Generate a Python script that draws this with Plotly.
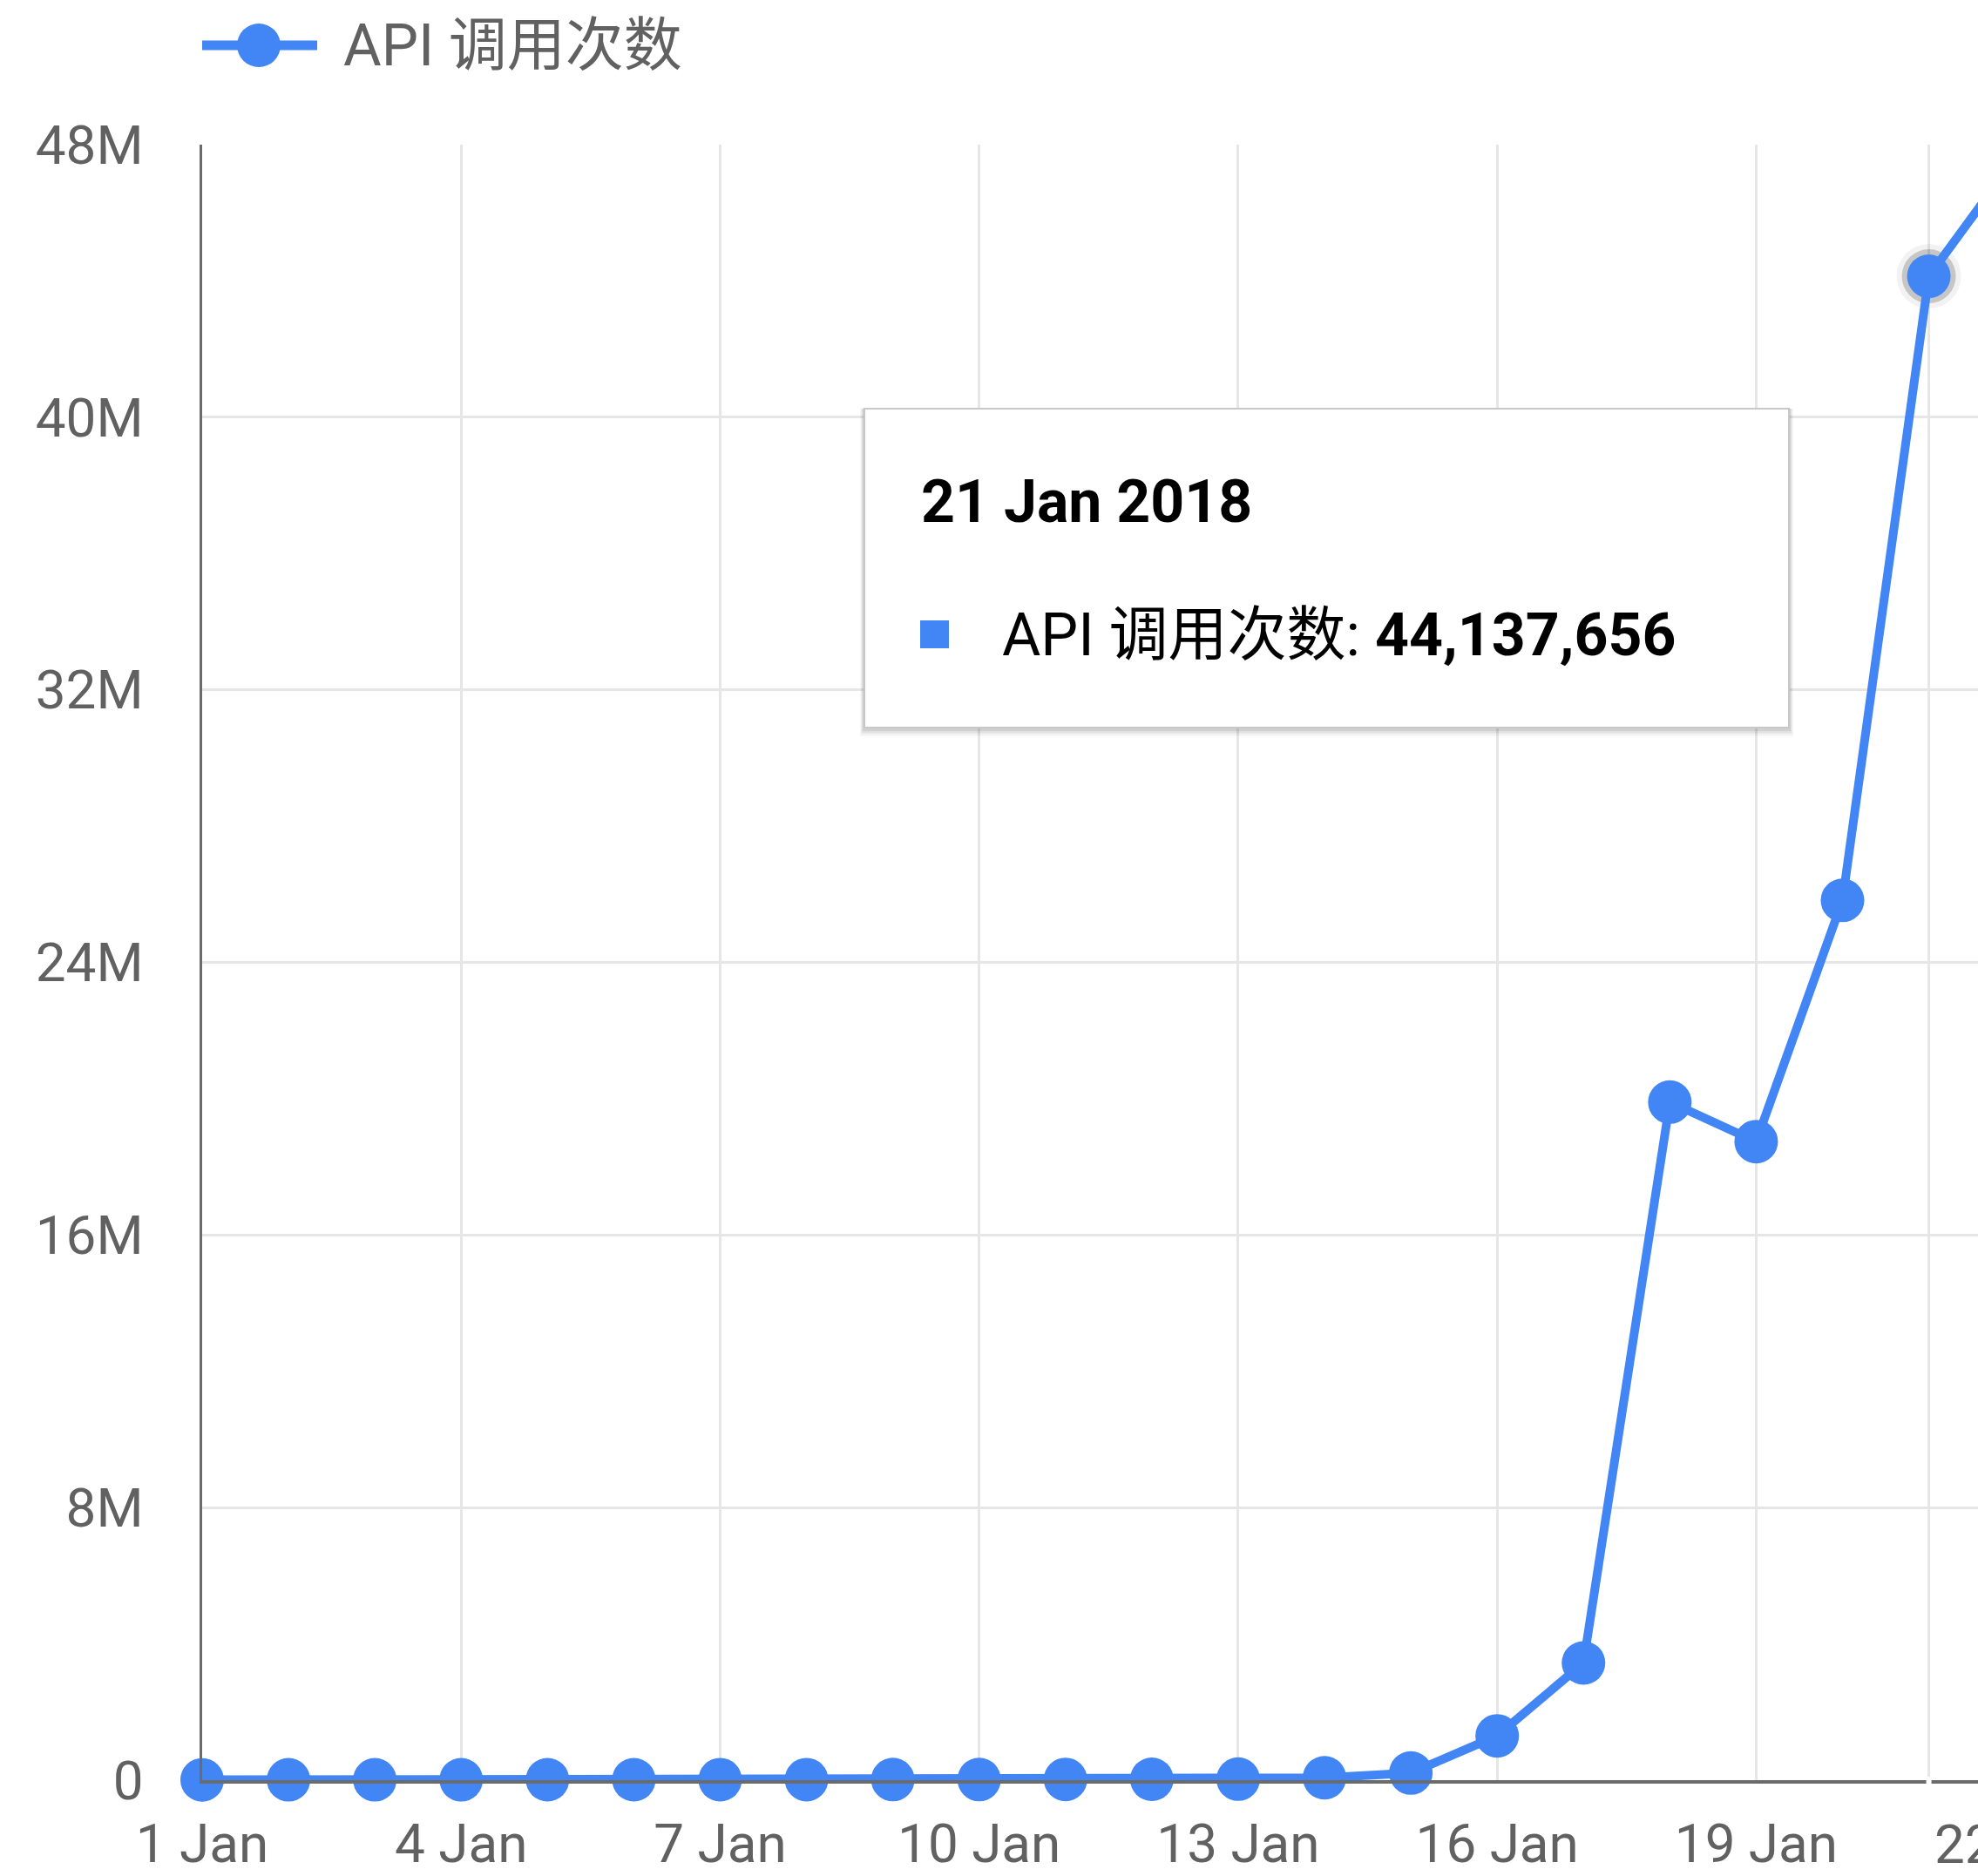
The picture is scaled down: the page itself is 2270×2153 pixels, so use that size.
import plotly.graph_objects as go

# ---------------- data ----------------
dates = ["2018-01-01", "2018-01-02", "2018-01-03", "2018-01-04", "2018-01-05",
         "2018-01-06", "2018-01-07", "2018-01-08", "2018-01-09", "2018-01-10",
         "2018-01-11", "2018-01-12", "2018-01-13", "2018-01-14", "2018-01-15",
         "2018-01-16", "2018-01-17", "2018-01-18", "2018-01-19", "2018-01-20",
         "2018-01-21", "2018-01-22"]
api_calls = [9000, 10500, 11000, 12000, 12500, 13000, 14000, 15000, 16500, 18000,
             21000, 25000, 30000, 70000, 210000, 1300000, 3440000, 19900000,
             18740000, 25820000, 44137656, 47600000]
series_name = "API 调用次数"
x_tick_vals = ["2018-01-01", "2018-01-04", "2018-01-07", "2018-01-10",
               "2018-01-13", "2018-01-16", "2018-01-19"]
x_tick_text = ["1 Jan", "4 Jan", "7 Jan", "10 Jan", "13 Jan", "16 Jan", "19 Jan"]
extra_tick_text = "22 Jan"
y_tick_vals = [0, 8e6, 16e6, 24e6, 32e6, 40e6, 48e6]
y_tick_text = ["0", "8M", "16M", "24M", "32M", "40M", "48M"]
hover_idx = 20
hover_label = "21 Jan 2018"

# ---------------- layout helpers ----------------
W, H = 2270, 2153
L, R, T, B = 232, 0, 166, 110
BLUE = "#4285F4"
GRAY_TXT = "#616161"
FONT = "Roboto, 'Noto Sans CJK SC', sans-serif"


def pxx(x):
    return (x - L) / (W - L - R)


def pyy(y):
    return (H - B - y) / (H - T - B)


fig = go.Figure()

# hover halo behind the highlighted point
fig.add_trace(go.Scatter(
    x=[dates[hover_idx]], y=[api_calls[hover_idx]], mode="markers",
    marker=dict(size=74, color="rgba(0,0,0,0.05)"),
    hoverinfo="skip", showlegend=False, cliponaxis=False))
fig.add_trace(go.Scatter(
    x=[dates[hover_idx]], y=[api_calls[hover_idx]], mode="markers",
    marker=dict(size=62, color="rgba(0,0,0,0.18)"),
    hoverinfo="skip", showlegend=False, cliponaxis=False))

fig.add_trace(go.Scatter(
    x=dates, y=api_calls, mode="lines+markers", name=series_name,
    line=dict(color=BLUE, width=10),
    marker=dict(size=50, color=BLUE),
    cliponaxis=False, showlegend=False))

shapes = []
annotations = []

# hover crosshair line
shapes.append(dict(type="line", xref="x", yref="y",
                   x0=dates[hover_idx], x1=dates[hover_idx], y0=0, y1=48e6,
                   line=dict(color="#e6e6e6", width=3), layer="between"))
# gap in axis line at hover position
shapes.append(dict(type="line", xref="x", yref="paper",
                   x0=dates[hover_idx], x1=dates[hover_idx],
                   y0=pyy(2050), y1=pyy(2039),
                   line=dict(color="white", width=6), layer="above"))

# legend (drawn manually to match large symbol)
shapes.append(dict(type="line", xref="paper", yref="paper",
                   x0=pxx(232), x1=pxx(364), y0=pyy(52), y1=pyy(52),
                   line=dict(color=BLUE, width=11), layer="above"))
shapes.append(dict(type="circle", xref="paper", yref="paper",
                   x0=pxx(272), x1=pxx(322), y0=pyy(77), y1=pyy(27),
                   fillcolor=BLUE, line=dict(width=0), layer="above"))
annotations.append(dict(xref="paper", yref="paper", x=pxx(392), y=pyy(52),
                        xanchor="left", yanchor="middle", showarrow=False,
                        text=series_name,
                        font=dict(family=FONT, size=67, color=GRAY_TXT)))

# tooltip box with shadow
bx0, by0, bx1, by1 = 992, 469, 2053, 835
for i, a in enumerate([0.03, 0.04, 0.05, 0.07]):
    off = 10 - 2 * i
    shapes.append(dict(type="rect", xref="paper", yref="paper",
                       x0=pxx(bx0 - off / 2), x1=pxx(bx1 + off / 2),
                       y0=pyy(by1 + off), y1=pyy(by0),
                       fillcolor=f"rgba(0,0,0,{a})", line=dict(width=0),
                       layer="above"))
shapes.append(dict(type="rect", xref="paper", yref="paper",
                   x0=pxx(bx0), x1=pxx(bx1), y0=pyy(by1), y1=pyy(by0),
                   fillcolor="white", line=dict(color="#c8c8c8", width=2),
                   layer="above"))
shapes.append(dict(type="rect", xref="paper", yref="paper",
                   x0=pxx(1056), x1=pxx(1089), y0=pyy(744), y1=pyy(712),
                   fillcolor=BLUE, line=dict(width=0), layer="above"))
annotations.append(dict(xref="paper", yref="paper", x=pxx(1055), y=pyy(576),
                        xanchor="left", yanchor="middle", showarrow=False,
                        text=f"<b>{hover_label}</b>",
                        font=dict(family=FONT, size=68, color="#000000")))
annotations.append(dict(xref="paper", yref="paper", x=pxx(1148), y=pyy(729),
                        xanchor="left", yanchor="middle", showarrow=False,
                        text=f"{series_name}: <b>{api_calls[hover_idx]:,}</b>",
                        font=dict(family=FONT, size=68, color="#000000")))

# partially visible next tick label beyond the right edge
annotations.append(dict(xref="paper", yref="paper", x=pxx(2313), y=pyy(2078),
                        xanchor="center", yanchor="top", showarrow=False,
                        text=extra_tick_text,
                        font=dict(family=FONT, size=62, color=GRAY_TXT)))

fig.update_layout(
    width=W, height=H,
    margin=dict(l=L, r=R, t=T, b=B, pad=0, autoexpand=False),
    paper_bgcolor="white", plot_bgcolor="white",
    font=dict(family=FONT, size=62, color=GRAY_TXT),
    showlegend=False,
    shapes=shapes, annotations=annotations,
    xaxis=dict(
        type="date",
        range=["2018-01-01", "2018-01-21 13:40"],
        tickmode="array", tickvals=x_tick_vals, ticktext=x_tick_text,
        showgrid=True, gridcolor="#e6e6e6", gridwidth=3,
        showline=True, linecolor="#6b6b6b", linewidth=4,
        ticks="", ticklabelstandoff=16, automargin=False,
        tickfont=dict(family=FONT, size=62, color=GRAY_TXT),
        zeroline=False, fixedrange=True,
    ),
    yaxis=dict(
        range=[0, 48e6],
        tickmode="array", tickvals=y_tick_vals, ticktext=y_tick_text,
        showgrid=True, gridcolor="#e6e6e6", gridwidth=3,
        showline=True, linecolor="#6b6b6b", linewidth=3,
        ticks="", ticklabelstandoff=52, automargin=False,
        tickfont=dict(family=FONT, size=62, color=GRAY_TXT),
        zeroline=False, fixedrange=True,
    ),
)

fig.write_html("out.html", config={"displayModeBar": False},
               post_script="document.body.style.margin='0';document.body.style.overflow='hidden';")
